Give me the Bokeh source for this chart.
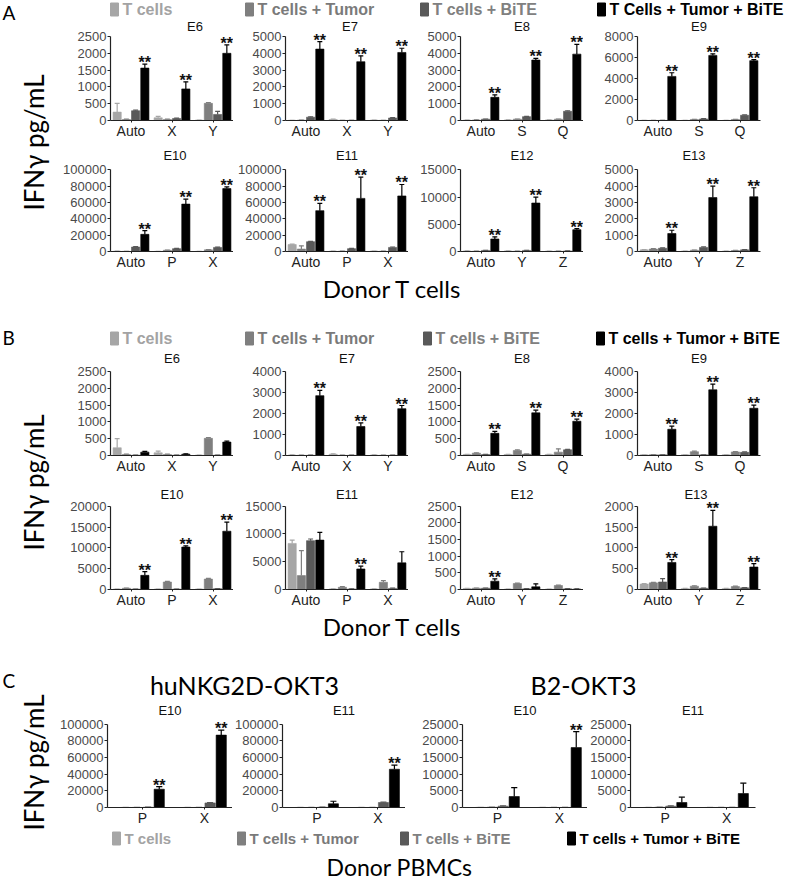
from bokeh.plotting import figure
from bokeh.models import Range1d, FixedTicker, LabelSet, ColumnDataSource
from bokeh.layouts import row, column
from bokeh.embed import file_html
from bokeh.resources import INLINE
from bokeh.core.properties import value
import math

SANS = "Liberation Sans"
BIG = "Lato"

SERIES_A = ["T cells", "T cells + Tumor", "T cells + BiTE", "T Cells + Tumor + BiTE"]
SERIES = ["T cells", "T cells + Tumor", "T cells + BiTE", "T cells + Tumor + BiTE"]
BAR_COLORS = ["#a6a6a6", "#7f7f7f", "#595959", "#000000"]
LEGEND_COLORS = ["#a3a3a3", "#7a7a7a", "#808080", "#000000"]

# ---------------- Panel A ----------------
A_TITLES = ["E6", "E7", "E8", "E9", "E10", "E11", "E12", "E13"]
A_GROUPS = [["Auto", "X", "Y"], ["Auto", "X", "Y"], ["Auto", "S", "Q"], ["Auto", "S", "Q"],
            ["Auto", "P", "X"], ["Auto", "P", "X"], ["Auto", "Y", "Z"], ["Auto", "Y", "Z"]]
A_YMAX = [2500, 5000, 5000, 8000, 100000, 100000, 15000, 5000]
A_YSTEP = [500, 1000, 1000, 2000, 20000, 20000, 5000, 1000]
A_SIG = [[0, 1, 2]] * 8

A_E6 = [[250, 30, 290, 1560], [80, 30, 60, 940], [10, 510, 180, 2000]]
A_E6_ERR = [[260, 10, 20, 120], [40, 10, 10, 210], [5, 20, 90, 250]]
A_E7 = [[10, 20, 200, 4250], [60, 10, 10, 3500], [20, 10, 150, 4050]]
A_E7_ERR = [[5, 5, 20, 450], [20, 5, 5, 350], [5, 5, 20, 250]]
A_E8 = [[20, 30, 80, 1380], [30, 80, 230, 3600], [30, 80, 550, 3950]]
A_E8_ERR = [[5, 10, 10, 150], [5, 10, 20, 100], [5, 10, 30, 580]]
A_E9 = [[10, 10, 10, 4200], [10, 100, 150, 6200], [10, 100, 500, 5700]]
A_E9_ERR = [[5, 5, 5, 350], [5, 10, 20, 150], [5, 10, 30, 100]]
A_E10 = [[300, 200, 5500, 21000], [100, 1500, 3500, 58000], [100, 2000, 5000, 77000]]
A_E10_ERR = [[50, 50, 500, 4500], [20, 200, 300, 6000], [20, 300, 400, 2000]]
A_E11 = [[8500, 3000, 12000, 50000], [300, 300, 3500, 65000], [500, 300, 5000, 68000]]
A_E11_ERR = [[500, 4000, 500, 9000], [50, 50, 300, 26000], [100, 100, 500, 14000]]
A_E12 = [[100, 50, 200, 2300], [100, 50, 200, 8900], [50, 50, 100, 4000]]
A_E12_ERR = [[20, 10, 20, 400], [20, 10, 20, 1100], [10, 10, 10, 200]]
A_E13 = [[100, 150, 200, 1100], [20, 80, 250, 3300], [20, 60, 100, 3350]]
A_E13_ERR = [[20, 20, 20, 200], [5, 10, 30, 700], [5, 10, 10, 550]]
A_VALS = [A_E6, A_E7, A_E8, A_E9, A_E10, A_E11, A_E12, A_E13]
A_ERRS = [A_E6_ERR, A_E7_ERR, A_E8_ERR, A_E9_ERR, A_E10_ERR, A_E11_ERR, A_E12_ERR, A_E13_ERR]

# ---------------- Panel B ----------------
B_TITLES = ["E6", "E7", "E8", "E9", "E10", "E11", "E12", "E13"]
B_GROUPS = A_GROUPS
B_YMAX = [2500, 4000, 2500, 4000, 20000, 15000, 2500, 2000]
B_YSTEP = [500, 1000, 500, 1000, 5000, 5000, 500, 500]
B_SIG = [[], [0, 1, 2], [0, 1, 2], [0, 1, 2], [0, 1, 2], [1], [0], [0, 1, 2]]

B_E6 = [[230, 30, 10, 100], [80, 30, 10, 40], [10, 510, 10, 400]]
B_E6_ERR = [[270, 10, 5, 20], [50, 10, 5, 10], [5, 20, 5, 30]]
B_E7 = [[20, 10, 10, 2850], [60, 10, 10, 1380], [20, 10, 10, 2230]]
B_E7_ERR = [[10, 5, 5, 250], [20, 5, 5, 170], [10, 5, 5, 150]]
B_E8 = [[30, 70, 30, 660], [30, 150, 40, 1270], [30, 100, 170, 1020]]
B_E8_ERR = [[5, 10, 5, 60], [5, 20, 5, 80], [5, 100, 10, 60]]
B_E9 = [[30, 40, 30, 1250], [30, 180, 30, 3130], [30, 170, 150, 2250]]
B_E9_ERR = [[5, 5, 5, 150], [5, 30, 5, 270], [5, 20, 20, 150]]
B_E10 = [[100, 300, 100, 3400], [100, 1800, 100, 10200], [100, 2500, 200, 14000]]
B_E10_ERR = [[20, 50, 20, 900], [20, 150, 20, 300], [20, 150, 30, 2200]]
B_E11 = [[8300, 2500, 8800, 8900], [100, 400, 100, 3700], [100, 1300, 200, 4800]]
B_E11_ERR = [[600, 4500, 300, 1400], [20, 100, 20, 500], [20, 300, 50, 2000]]
B_E12 = [[30, 40, 40, 250], [10, 180, 20, 80], [10, 120, 20, 10]]
B_E12_ERR = [[5, 5, 5, 70], [5, 10, 5, 90], [5, 10, 5, 5]]
B_E13 = [[130, 160, 180, 650], [20, 80, 30, 1520], [20, 70, 40, 540]]
B_E13_ERR = [[10, 10, 80, 70], [5, 10, 5, 380], [5, 10, 5, 80]]
B_VALS = [B_E6, B_E7, B_E8, B_E9, B_E10, B_E11, B_E12, B_E13]
B_ERRS = [B_E6_ERR, B_E7_ERR, B_E8_ERR, B_E9_ERR, B_E10_ERR, B_E11_ERR, B_E12_ERR, B_E13_ERR]

# ---------------- Panel C ----------------
C_TITLES = ["E10", "E11", "E10", "E11"]
C_GROUPS = [["P", "X"]] * 4
C_YMAX = [100000, 100000, 25000, 25000]
C_YSTEP = [20000, 20000, 5000, 5000]
C_SIG = [[0, 1], [1], [1], []]
C_NK_E10 = [[100, 100, 300, 22000], [50, 50, 5500, 87000]]
C_NK_E10_ERR = [[20, 20, 50, 3000], [10, 10, 500, 6000]]
C_NK_E11 = [[50, 50, 300, 4500], [50, 50, 6000, 46000]]
C_NK_E11_ERR = [[10, 10, 50, 3000], [10, 10, 500, 5000]]
C_B2_E10 = [[50, 100, 400, 3300], [20, 20, 20, 18000]]
C_B2_E10_ERR = [[10, 20, 100, 2700], [5, 5, 5, 4800]]
C_B2_E11 = [[20, 100, 400, 1500], [20, 20, 20, 4200]]
C_B2_E11_ERR = [[5, 20, 100, 1600], [5, 5, 5, 3100]]
C_VALS = [C_NK_E10, C_NK_E11, C_B2_E10, C_B2_E11]
C_ERRS = [C_NK_E10_ERR, C_NK_E11_ERR, C_B2_E10_ERR, C_B2_E11_ERR]
C_HEADS = ["huNKG2D-OKT3", "B2-OKT3"]

Y_LABEL = "IFNγ pg/mL"
X_LABEL_T = "Donor T cells"
X_LABEL_PBMC = "Donor PBMCs"

FH = 84  # pixel height between the 0 tick and the top tick


def make_sub(title, groups, vals, errs, sig, ymax, ystep, bl, fw, br, extra, tgap, bb,
             ppu, first_off, bw, step, tdx=0):
    # extra: pixels of frame above the top tick (room for title and stars)
    xr0 = -first_off / ppu
    xr1 = xr0 + fw / ppu
    yend = ymax * (FH + extra) / FH
    p = figure(width=bl + fw + br, height=extra + FH + bb,
               x_range=Range1d(xr0, xr1), y_range=Range1d(0, yend),
               output_backend="svg", toolbar_location=None,
               min_border_left=bl, min_border_right=br,
               min_border_top=0, min_border_bottom=bb)
    p.title.visible = False
    p.outline_line_color = None
    p.grid.visible = False
    xs, tops, cols = [], [], []
    ex, ey0, ey1, ec, cx0, cx1 = [], [], [], [], [], []
    sx, sy = [], []
    for gi, g in enumerate(groups):
        for si in range(4):
            x = gi + (si - 1.5) * step
            v = vals[gi][si]
            e = errs[gi][si]
            xs.append(x); tops.append(v); cols.append(BAR_COLORS[si])
            if e > 0:
                ex.append(x); ey0.append(v); ey1.append(v + e); ec.append(BAR_COLORS[si])
                cx0.append(x - bw * 0.3); cx1.append(x + bw * 0.3)
            if si == 3 and gi in sig:
                sx.append(x); sy.append(v + e)
    src = ColumnDataSource(dict(x=xs, top=tops, color=cols))
    p.vbar(x="x", top="top", bottom=0, width=bw, fill_color="color", line_color="color",
           line_width=0.6, source=src)
    esrc = ColumnDataSource(dict(x=ex, y0=ey0, y1=ey1, c=ec, cx0=cx0, cx1=cx1))
    p.segment(x0="x", y0="y0", x1="x", y1="y1", line_color="c", line_width=1.2, source=esrc)
    p.segment(x0="cx0", y0="y1", x1="cx1", y1="y1", line_color="c", line_width=1.2, source=esrc)
    ssrc = ColumnDataSource(dict(x=sx, y=sy, t=["**"] * len(sx)))
    p.add_layout(LabelSet(x="x", y="y", text="t", source=ssrc, text_align="center",
                          text_baseline="alphabetic", y_offset=-4,
                          text_font=value(SANS), text_font_size=value("16px"),
                          text_font_style="bold", text_color="#111111"))
    # subplot title, placed tgap pixels above the top tick
    p.text(x=[(xr0 + xr1) / 2 + tdx / ppu], y=[ymax + tgap * ymax / FH], text=[title],
           text_font=value(SANS), text_font_size=value("13px"), text_color="#111111",
           text_align="center", text_baseline="middle")
    ticks = list(range(0, ymax + 1, ystep))
    p.yaxis.ticker = FixedTicker(ticks=ticks)
    p.yaxis.major_label_overrides = {t: str(t) for t in ticks}
    p.yaxis.bounds = (0, ymax)
    p.yaxis.minor_tick_line_color = None
    p.yaxis.major_tick_out = 3
    p.yaxis.major_tick_in = 0
    p.yaxis.major_label_standoff = 1
    p.xaxis.ticker = FixedTicker(ticks=list(range(len(groups))))
    p.xaxis.major_label_overrides = {i: g for i, g in enumerate(groups)}
    p.xaxis.major_tick_out = 2
    p.xaxis.major_tick_in = 0
    p.xaxis.minor_tick_line_color = None
    p.xaxis.major_label_standoff = 0
    for ax in (p.xaxis, p.yaxis):
        ax.axis_line_color = "#222222"
        ax.major_tick_line_color = "#222222"
        ax.axis_line_width = 1.2
        ax.major_label_text_font = SANS
    p.yaxis.major_label_text_font_size = "13px"
    p.yaxis.major_label_text_color = "#4a4a4a"
    p.xaxis.major_label_text_font_size = "14px"
    p.xaxis.major_label_text_color = "#222222"
    return p


def blank(w, h):
    p = figure(width=w, height=h, x_range=Range1d(0, w), y_range=Range1d(0, h),
               x_axis_type=None, y_axis_type=None, output_backend="svg",
               toolbar_location=None, min_border=0)
    p.grid.visible = False
    p.outline_line_color = None
    return p


def put(p, x, ytop, txt, size, font=BIG, color="#000000", style="normal", align="left", angle=0.0):
    p.text(x=[x], y=[p.height - ytop], text=[txt], text_font=value(font),
           text_font_size=value(f"{size}px"), text_color=color, text_font_style=style,
           text_align=align, text_baseline="middle", angle=angle)


def legend(p, xs, ytop, labels, size=16):
    for i, lab in enumerate(labels):
        p.rect(x=[xs[i] + 4], y=[p.height - ytop], width=8, height=13,
               fill_color=BAR_COLORS[i], line_color=BAR_COLORS[i])
        put(p, xs[i] + 12, ytop, lab, size, font=SANS, color=LEGEND_COLORS[i], style="bold")


AB_COLS = [(60, 123, 0), (52, 123, 0), (52, 123, 0), (54, 123, 24)]
C_COLS = [(57, 125, 0), (48, 125, 0), (57, 125, 0), (42, 126, 29)]


def ab_row(titles, groups, vals, errs, sig, ymax, ystep, idx, extra, tgap, bb, tdx):
    figs = []
    for k, i in enumerate(idx):
        bl, fw, br = AB_COLS[k]
        figs.append(make_sub(titles[i], groups[i], vals[i], errs[i], sig[i], ymax[i], ystep[i],
                             bl, fw, br, extra, tgap, bb, 41.0, 20.5, 0.2, 0.225, tdx[k]))
    return row(*figs)


# Panel A  (content heights sum to 880; page y = content y + 8)
ylabA = blank(50, 272)                       # page 8 -> 280
put(ylabA, 2, 12, "A", 19)
put(ylabA, 33, 142, Y_LABEL, 26, align="center", angle=math.pi / 2)
hdrA = blank(734, 18)                        # page 8 -> 26, x from page 58
legend(hdrA, [60, 195, 370, 547], 9, SERIES_A)
rowA1 = ab_row(A_TITLES, A_GROUPS, A_VALS, A_ERRS, A_SIG, A_YMAX, A_YSTEP, [0, 1, 2, 3], 18, 10, 24, [23, 3, 0, 0])
rowA2 = ab_row(A_TITLES, A_GROUPS, A_VALS, A_ERRS, A_SIG, A_YMAX, A_YSTEP, [4, 5, 6, 7], 26, 15, 18, [3, 0, 0, -5])
midAB = blank(784, 78)                       # page 280 -> 358
put(midAB, 392, 16, X_LABEL_T, 24, align="center")
put(midAB, 2, 65, "B", 19)
legend(midAB, [110, 245, 423, 596], 66, SERIES)

# Panel B
ylabB = blank(50, 260)                       # page 358 -> 618
put(ylabB, 33, 132, Y_LABEL, 26, align="center", angle=math.pi / 2)
rowB1 = ab_row(B_TITLES, B_GROUPS, B_VALS, B_ERRS, B_SIG, B_YMAX, B_YSTEP, [0, 1, 2, 3], 21, 13, 21, [0, 0, 0, 0])
rowB2 = ab_row(B_TITLES, B_GROUPS, B_VALS, B_ERRS, B_SIG, B_YMAX, B_YSTEP, [4, 5, 6, 7], 30, 12, 20, [0, 0, 0, -3])
midBC = blank(784, 32)                       # page 618 -> 650
put(midBC, 392, 16, X_LABEL_T, 24, align="center")

# Panel C
ylabC = blank(50, 206)                       # page 650 -> 856
put(ylabC, 2, 38, "C", 19)
put(ylabC, 33, 120, Y_LABEL, 26, align="center", angle=math.pi / 2)
headC = blank(734, 60)                       # page 650 -> 710
put(headC, 194, 42, C_HEADS[0], 25, align="center")
put(headC, 533, 42, C_HEADS[1], 25, align="center")
figsC = []
for k in range(4):
    bl, fw, br = C_COLS[k]
    figsC.append(make_sub(C_TITLES[k], C_GROUPS[k], C_VALS[k], C_ERRS[k], C_SIG[k], C_YMAX[k],
                          C_YSTEP[k], bl, fw, br, 22, 14, 20, 62.0, 35.0, 0.165, 0.18))
rowC = row(*figsC)                           # page 710 -> 836
legC = blank(734, 20)                        # page 836 -> 856
legend(legC, [62, 187, 350, 517], 10, SERIES, size=15)
ftrC = blank(784, 32)                        # page 856 -> 888
put(ftrC, 399, 18, X_LABEL_PBMC, 23, align="center")

layout = column(
    row(ylabA, column(hdrA, rowA1, rowA2)),
    midAB,
    row(ylabB, column(rowB1, rowB2)),
    midBC,
    row(ylabC, column(headC, rowC, legC)),
    ftrC,
)

open("out.html", "w").write(file_html(layout, INLINE))
